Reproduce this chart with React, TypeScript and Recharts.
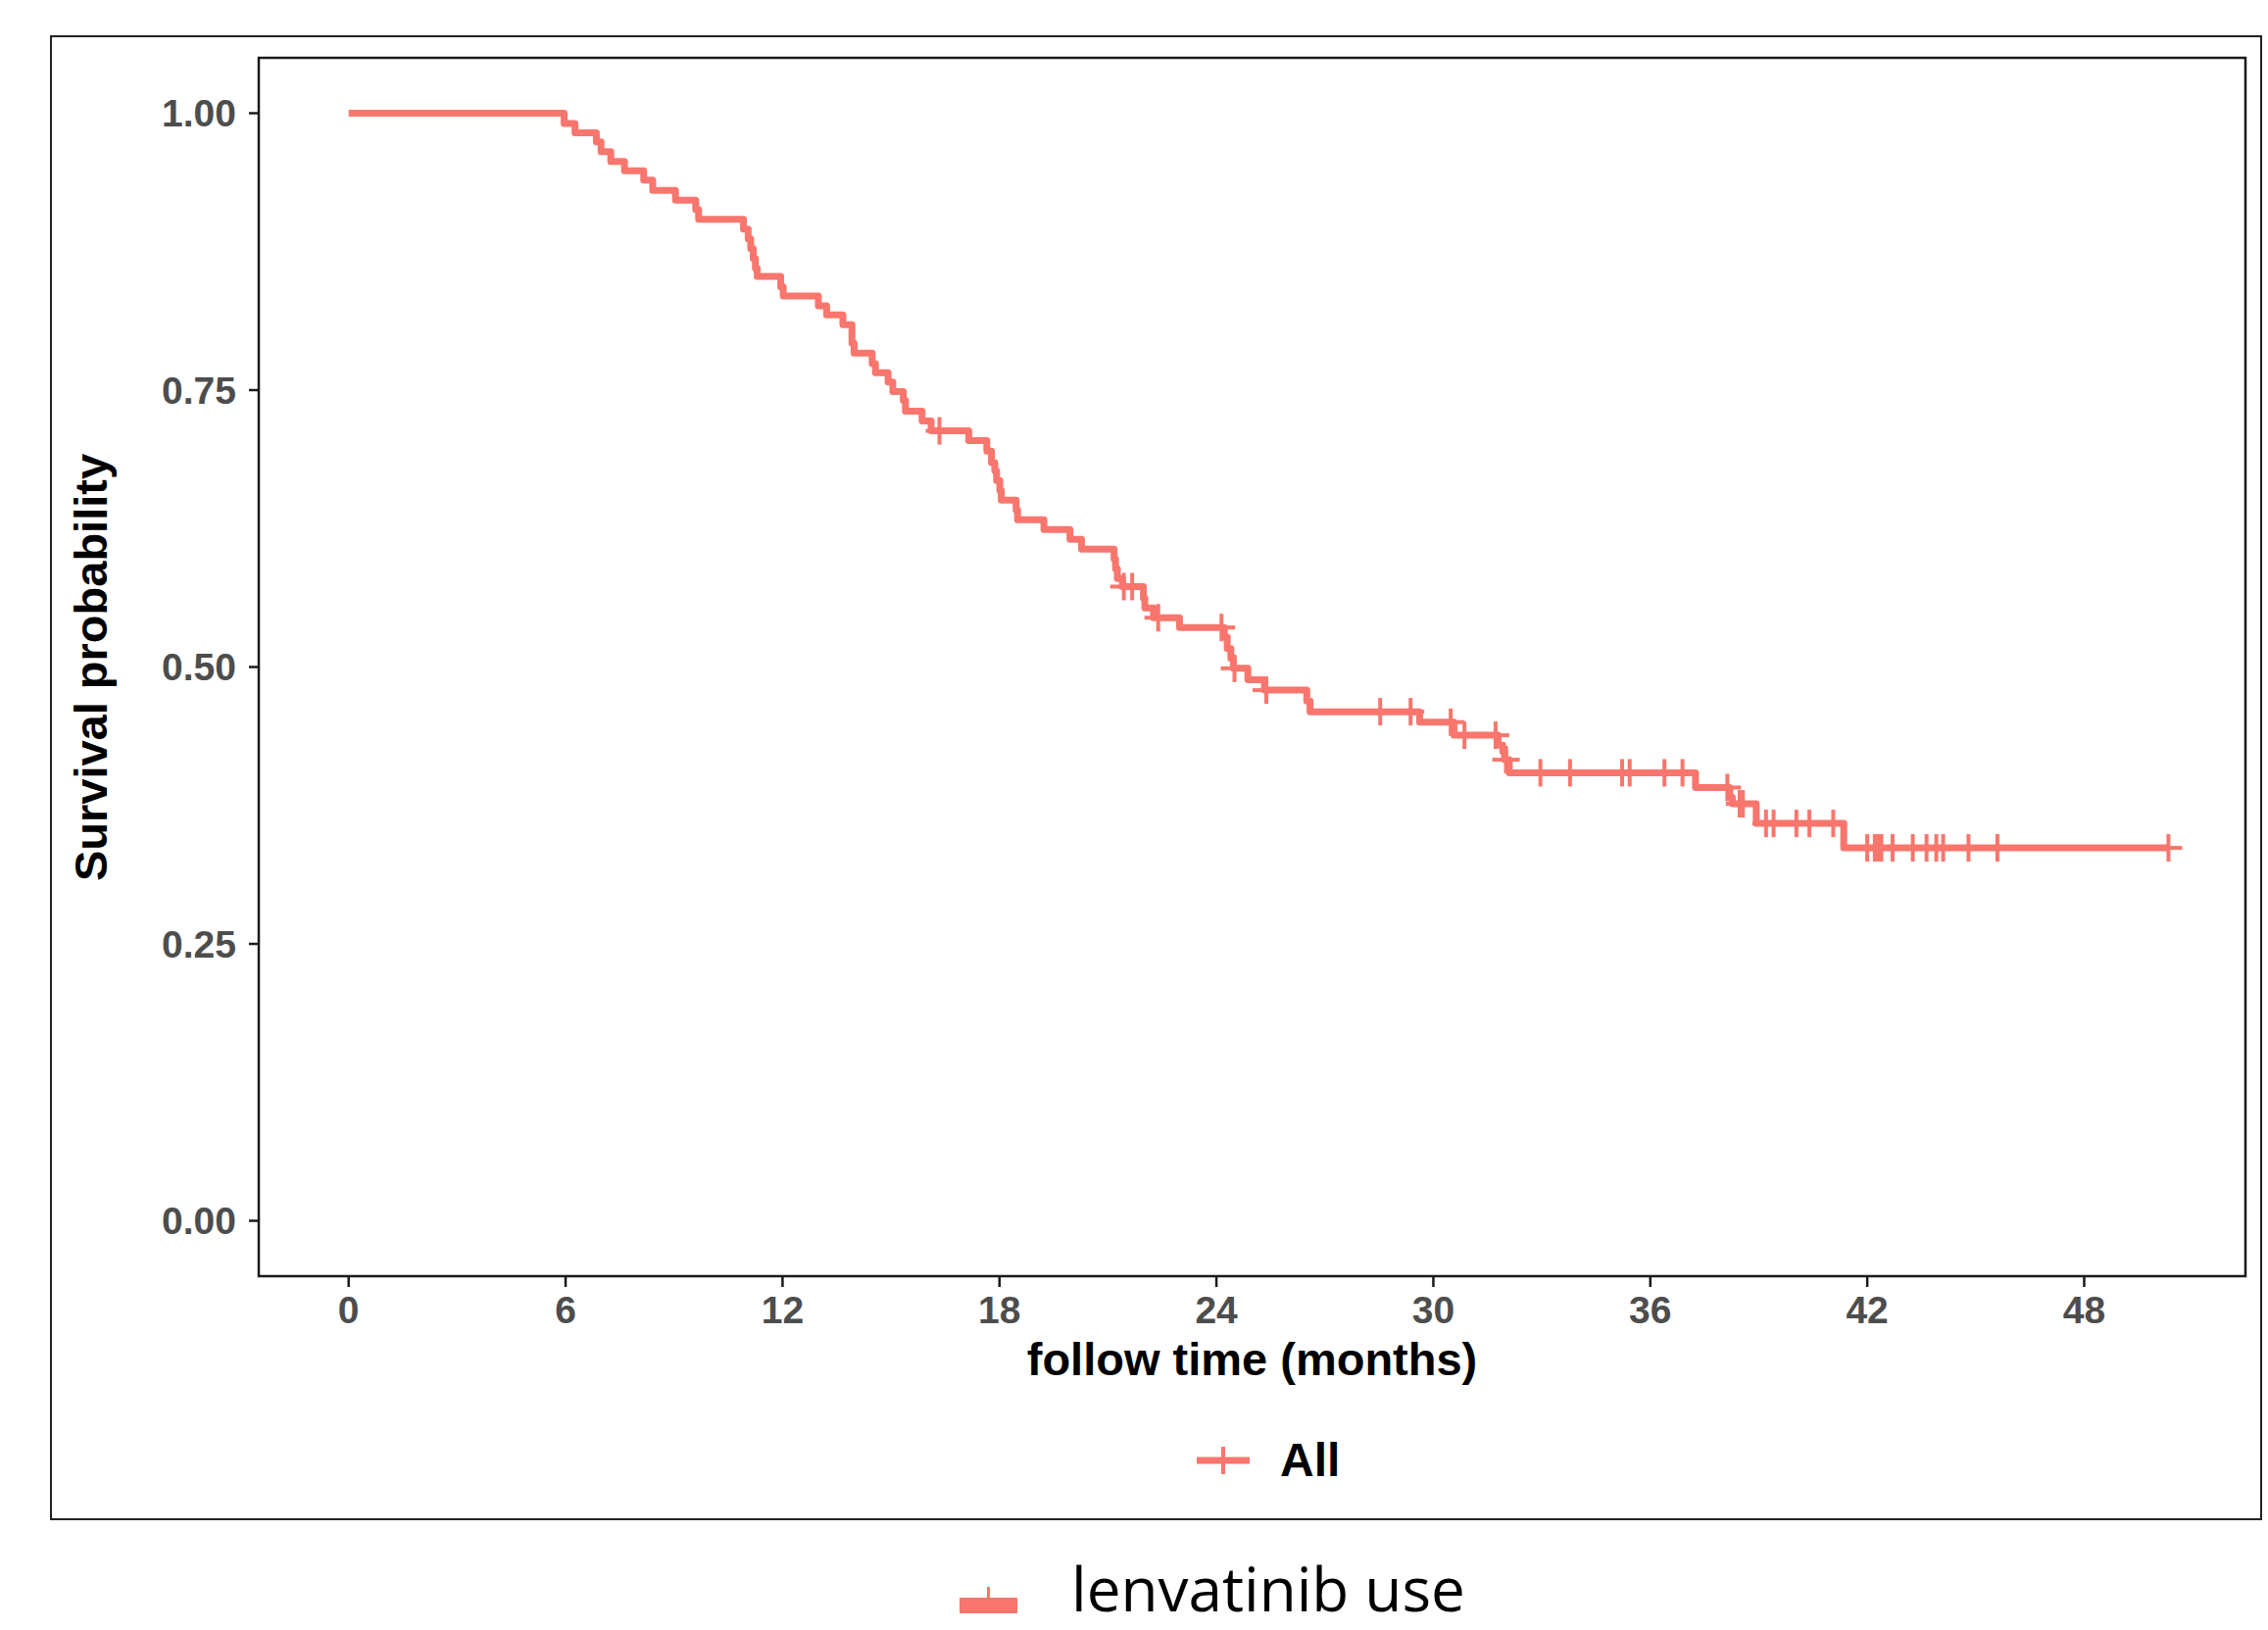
import React from 'react';
import { ComposedChart, Line, Scatter, XAxis, YAxis, ReferenceArea, Label } from 'recharts';

// Kaplan-Meier step points (time in months, survival probability after the event)
const eventTimes = [0, 5.96, 6.26, 6.85, 6.98, 7.25, 7.63, 8.16, 8.41, 9.04, 9.6, 9.68, 10.92, 11.05, 11.12, 11.19, 11.25, 11.3, 11.95, 12.02, 12.99, 13.22, 13.67, 13.92, 13.98, 14.48, 14.57, 14.92, 15.05, 15.34, 15.4, 15.86, 16.11, 17.15, 17.65, 17.78, 17.87, 17.92, 18.01, 18.05, 18.46, 18.5, 19.23, 19.95, 20.27, 21.17, 21.21, 21.26, 21.4, 21.98, 22.02, 22.26, 22.98, 24.22, 24.3, 24.4, 24.47, 24.87, 25.33, 26.5, 26.59, 29.62, 30.57, 31.79, 31.92, 31.97, 32.1, 37.25, 38.2, 38.27, 38.93, 41.35, 50.33];
const survival = [1.0, 0.9906, 0.9824, 0.9741, 0.9653, 0.9565, 0.9479, 0.9397, 0.9302, 0.9214, 0.9131, 0.9043, 0.8954, 0.8866, 0.8777, 0.8689, 0.86, 0.8526, 0.8432, 0.8349, 0.8261, 0.8179, 0.809, 0.7922, 0.7834, 0.7739, 0.7657, 0.7574, 0.7486, 0.7406, 0.7309, 0.7221, 0.7132, 0.7044, 0.6949, 0.6846, 0.6772, 0.6684, 0.6595, 0.6507, 0.6418, 0.633, 0.6242, 0.6153, 0.6065, 0.5976, 0.5888, 0.5799, 0.5726, 0.5622, 0.5534, 0.5445, 0.5357, 0.5269, 0.5165, 0.5077, 0.4988, 0.4885, 0.4791, 0.4693, 0.4596, 0.4502, 0.4384, 0.4295, 0.4236, 0.4163, 0.4045, 0.3912, 0.3824, 0.3765, 0.3588, 0.3367, 0.3367];

// Censoring marks
const censorTimes = [16.34, 21.44, 21.67, 22.39, 24.14, 24.5, 25.38, 28.53, 29.37, 30.48, 30.86, 31.72, 32.01, 32.96, 33.78, 35.22, 35.43, 36.39, 36.89, 38.13, 38.47, 38.56, 39.2, 39.41, 40.04, 40.4, 41.06, 42.0, 42.21, 42.3, 42.39, 42.7, 43.26, 43.64, 43.91, 44.1, 44.8, 45.6, 50.33];
const censorSurv = [0.7132, 0.5726, 0.5726, 0.5445, 0.5357, 0.4988, 0.4791, 0.4596, 0.4596, 0.4502, 0.4384, 0.4384, 0.4163, 0.4045, 0.4045, 0.4045, 0.4045, 0.4045, 0.4045, 0.3912, 0.3765, 0.3765, 0.3588, 0.3588, 0.3588, 0.3588, 0.3588, 0.3367, 0.3367, 0.3367, 0.3367, 0.3367, 0.3367, 0.3367, 0.3367, 0.3367, 0.3367, 0.3367, 0.3367];

const xTicks = [0, 6, 12, 18, 24, 30, 36, 42, 48];
const yTicks = [0, 0.25, 0.5, 0.75, 1];
const xDomain = [-2.486, 52.46];
const yDomain = [-0.05, 1.05];
const seriesName = 'All';
const xTitle = 'follow time (months)';
const yTitle = 'Survival probability';
const caption = 'lenvatinib use';

const curveData = eventTimes.map((t, i) => ({ t, s: survival[i] }));
const censorData = censorTimes.map((t, i) => ({ t, s: censorSurv[i] }));

const COLOR = '#F8766D';
const FONT = '"Liberation Sans", Arial, Helvetica, sans-serif';
const AXIS = '#1a1a1a';

const CensorMark = (props: any) => {
  const { cx, cy } = props;
  if (cx == null || cy == null) return null;
  return (
    <g>
      <line x1={cx - 14} x2={cx + 14} y1={cy} y2={cy} stroke={COLOR} strokeWidth={4} />
      <line x1={cx} x2={cx} y1={cy - 14} y2={cy + 14} stroke={COLOR} strokeWidth={4} />
    </g>
  );
};

export default function App() {
  return (
    <div style={{ position: 'absolute', left: 0, top: 0, width: 2314, height: 1663, overflow: 'hidden', background: '#fff' }}>
      <div
        style={{
          position: 'absolute',
          left: 51,
          top: 36,
          width: 2257,
          height: 1515,
          border: '2px solid #222',
          boxSizing: 'border-box',
        }}
      />
      <div style={{ position: 'absolute', left: 0, top: 0 }}>
        <ComposedChart
          width={2314}
          height={1663}
          margin={{ top: 59, right: 23, bottom: 261, left: 164 }}
        >
          <XAxis
            type="number"
            dataKey="t"
            domain={xDomain}
            allowDataOverflow
            ticks={xTicks}
            interval={0}
            height={100}
            axisLine={false}
            tickLine={{ stroke: AXIS, strokeWidth: 2.5 }}
            tickSize={11}
            tickMargin={9}
            tick={{ fill: '#4D4D4D', fontSize: 39, fontWeight: 'bold', fontFamily: FONT }}
          >
            <Label
              content={() => (
                <text x={1277.5} y={1403} textAnchor="middle" fontFamily={FONT} fontWeight="bold" fontSize={47} fill="#000">
                  {xTitle}
                </text>
              )}
            />
          </XAxis>
          <YAxis
            type="number"
            dataKey="s"
            domain={yDomain}
            allowDataOverflow
            ticks={yTicks}
            interval={0}
            width={100}
            axisLine={false}
            tickLine={{ stroke: AXIS, strokeWidth: 2.5 }}
            tickSize={10}
            tickMargin={13}
            tickFormatter={(v: number) => v.toFixed(2)}
            tick={{ fill: '#4D4D4D', fontSize: 39, fontWeight: 'bold', fontFamily: FONT }}
          >
            <Label
              content={() => (
                <text
                  x={0}
                  y={0}
                  transform="translate(109,681) rotate(-90)"
                  textAnchor="middle"
                  fontFamily={FONT}
                  fontWeight="bold"
                  fontSize={47}
                  fill="#000"
                >
                  {yTitle}
                </text>
              )}
            />
          </YAxis>
          <ReferenceArea
            x1={xDomain[0]}
            x2={xDomain[1]}
            y1={yDomain[0]}
            y2={yDomain[1]}
            fill="none"
            fillOpacity={0}
            stroke={AXIS}
            strokeWidth={2.5}
            ifOverflow="visible"
          />
          <Line
            data={curveData}
            dataKey="s"
            type="stepAfter"
            stroke={COLOR}
            strokeWidth={7}
            strokeLinejoin="round"
            dot={false}
            activeDot={false}
            isAnimationActive={false}
            name={seriesName}
          />
          <Scatter
            data={censorData}
            dataKey="s"
            shape={CensorMark}
            isAnimationActive={false}
            name={seriesName}
          />
        </ComposedChart>
      </div>
      <svg
        width={2314}
        height={1663}
        style={{ position: 'absolute', left: 0, top: 0, pointerEvents: 'none' }}
      >
        {/* legend */}
        <line x1={1221} x2={1275} y1={1490} y2={1490} stroke={COLOR} strokeWidth={7} />
        <line x1={1248} x2={1248} y1={1476} y2={1504} stroke={COLOR} strokeWidth={4} />
        <text x={1306} y={1506} fontFamily={FONT} fontWeight="bold" fontSize={48} fill="#000">
          {seriesName}
        </text>
        {/* caption below the figure */}
        <rect x={979} y={1630} width={59} height={16} fill={COLOR} />
        <rect x={1007} y={1619} width={3} height={12} fill={COLOR} />
        <text x={1093} y={1644} fontFamily='"Open Sans", "Noto Sans", sans-serif' fontSize={62} fill="#000">
          {caption}
        </text>
      </svg>
    </div>
  );
}
